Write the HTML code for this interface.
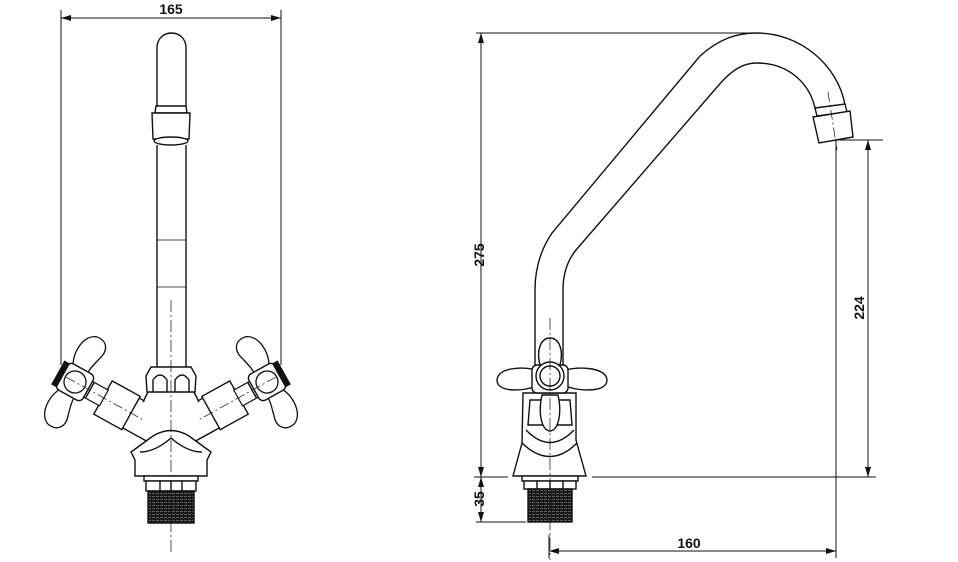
<!DOCTYPE html>
<html><head><meta charset="utf-8"><style>
html,body{margin:0;padding:0;background:#fff;}
svg{display:block;}
text{font-family:"Liberation Sans Narrow","Liberation Sans",sans-serif;font-weight:bold;font-size:14px;fill:#111;}
</style></head><body>
<svg width="958" height="562" viewBox="0 0 958 562" xmlns="http://www.w3.org/2000/svg">
<defs>
<marker id="a" viewBox="0 0 10 6" refX="10" refY="3" markerWidth="10" markerHeight="6" orient="auto-start-reverse" markerUnits="userSpaceOnUse"><path d="M0,0 L10,3 L0,6 Z" fill="#111"/></marker>
<pattern id="th" width="4" height="3" patternUnits="userSpaceOnUse"><rect width="4" height="3" fill="#1a1a1a"/><rect y="1" width="3" height="0.7" fill="#777"/></pattern>
<g id="arm">
 <path d="M-9,-12 C-17,-26 -15,-46 -3,-50 C9,-52 14,-43 10,-32 C8,-24 6,-17 7,-12 Z" fill="#fff" stroke="#111" stroke-width="1.3"/>
 <path d="M-9,12 C-17,26 -15,46 -3,50 C9,52 14,43 10,32 C8,24 6,17 7,12 Z" fill="#fff" stroke="#111" stroke-width="1.3"/>
 <rect x="62" y="-17" width="36" height="34" fill="#fff" stroke="#111" stroke-width="1.4"/>
 <rect x="32" y="-19" width="32" height="38" fill="#fff" stroke="#111" stroke-width="1.4"/>
 <rect x="13" y="-9" width="20" height="18" fill="#fff" stroke="#111" stroke-width="1.2"/>
 <line x1="17" y1="-9" x2="17" y2="9" stroke="#111"/>
 <rect x="-15" y="-15" width="30" height="30" rx="5" fill="#fff" stroke="#111" stroke-width="1.4"/>
 <circle cx="0" cy="0" r="11" fill="#fff" stroke="#111" stroke-width="1.3"/>
 <rect x="-19" y="-13" width="5" height="26" fill="#111"/>
 <line x1="-10" y1="0" x2="98" y2="0" stroke="#111" stroke-width="0.7" stroke-dasharray="10,3,2,3"/>
</g>
</defs>

<g stroke="#111" fill="none" stroke-width="1">
 <line x1="61" y1="10" x2="61" y2="365"/>
 <line x1="281" y1="10" x2="281" y2="365"/>
 <line x1="61" y1="18" x2="281" y2="18" marker-start="url(#a)" marker-end="url(#a)"/>
</g>
<text x="171" y="14" text-anchor="middle">165</text>

<g stroke="#111" fill="#fff" stroke-width="1.4">
 <path d="M157,368 L157,145 M186,145 L186,368"/>
 <line x1="157" y1="240" x2="186" y2="240" stroke-width="0.8"/>
 <line x1="157" y1="287" x2="186" y2="287" stroke-width="0.8"/>
 <path d="M157,106 L157,48 C157,28 186,28 186,48 L186,106"/>
 <path d="M156,106 L186,106 L187,113 L155,113 Z"/>
 <path d="M152,113 L190,113 L189,139 L153,139 Z"/>
 <ellipse cx="171" cy="141" rx="17" ry="4"/>
 <g transform="translate(75,382) rotate(29)"><use href="#arm"/></g>
 <g transform="translate(342,0) scale(-1,1) translate(75,382) rotate(29)"><use href="#arm"/></g>
 <path d="M150,392 L192,392 L198,402 L205,408 L190,440 L171,446 L152,440 L137,408 L144,402 Z" stroke="none"/>
 <path d="M148,392 L143,402 M194,392 L199,402" />
 <path d="M135,476 L135,460 L131,452 L153,436 Q171,425 189,436 L211,452 L207,460 L207,476 Z"/>
 <path d="M140,452 Q155,452 171,438 Q187,452 202,452" fill="none"/>
 <path d="M151,367 L191,367 L196,376 L195,392 L147,392 L146,376 Z"/>
 <path d="M153,392 L153,380 Q160,370 167,380 L167,392 M175,392 L175,380 Q182,370 189,380 L189,392" fill="none"/>
 <rect x="144" y="476" width="54" height="5"/>
 <rect x="146" y="481" width="50" height="10"/>
 <path d="M160,481 V491 M171,481 V491 M182,481 V491" fill="none"/>
 <rect x="148" y="491" width="46" height="32" fill="url(#th)"/>
</g>
<line x1="171" y1="300" x2="171" y2="552" stroke="#111" stroke-width="0.7" stroke-dasharray="12,3,2,3"/>

<g stroke="#111" fill="none" stroke-width="1">
 <line x1="476" y1="33" x2="757" y2="33"/>
 <line x1="481" y1="33" x2="481" y2="477" marker-start="url(#a)" marker-end="url(#a)"/>
 <line x1="481" y1="477" x2="481" y2="522" marker-start="url(#a)" marker-end="url(#a)"/>
 <line x1="474" y1="477" x2="508" y2="477"/>
 <line x1="592" y1="477" x2="876" y2="477"/>
 <line x1="476" y1="522" x2="526" y2="522"/>
 <line x1="836" y1="140" x2="883" y2="140"/>
 <line x1="868" y1="140" x2="868" y2="477" marker-start="url(#a)" marker-end="url(#a)"/>
 <line x1="836" y1="140" x2="836" y2="558"/>
 <line x1="549" y1="535" x2="549" y2="558"/>
 <line x1="549" y1="551" x2="836" y2="551" marker-start="url(#a)" marker-end="url(#a)"/>
</g>
<text transform="translate(484,255) rotate(-90)" text-anchor="middle">275</text>
<text transform="translate(484,499) rotate(-90)" text-anchor="middle">35</text>
<text transform="translate(864,308) rotate(-90)" text-anchor="middle">224</text>
<text x="689" y="548" text-anchor="middle">160</text>

<g stroke="#111" fill="#fff" stroke-width="1.4">
 <path d="M535,400 L535,290 Q535,258 552,233 L700,56 C720,38 738,33 757,33 C800,33 838,65 845,105" fill="none"/>
 <path d="M563,400 L563,290 Q563,266 576,250 L718,86 C733,68 745,63 757,63 C790,63 810,85 815,108" fill="none"/>
 <path d="M815,108 L845,104 L847,112 L817,116 Z"/>
 <path d="M813,117 L850,111 L853,137 L819,143 Z"/>
 <line x1="828" y1="92" x2="837" y2="150" stroke-width="0.7" stroke-dasharray="10,3,2,3"/>
 <path d="M523,393 L576,393 L576,440 L586,476 L513,476 L522,443 Z"/>
 <path d="M522,443 Q550,470 577,443" fill="none"/>
 <path d="M526,430 Q550,455 574,430" fill="none"/>
 <path d="M530,400 L570,400 L572,425 L528,425 Z" fill="none"/>
 <path d="M537,370 C520,366 498,368 497,380 C497,392 520,392 537,386 Z"/>
 <path d="M565,370 C582,366 606,368 607,380 C607,392 582,392 565,386 Z"/>
 <path d="M540,365 C536,350 541,338 550,338 C559,338 564,350 560,365 Z"/>
 <path d="M542,395 C538,412 541,430 550,431 C559,430 562,412 558,395 Z"/>
 <rect x="532" y="365" width="36" height="28" rx="5"/>
 <circle cx="550" cy="376" r="14"/>
 <circle cx="550" cy="376" r="10"/>
 <rect x="522" y="476" width="56" height="5"/>
 <rect x="524" y="481" width="52" height="8"/>
 <path d="M537,481 V489 M550,481 V489 M563,481 V489" fill="none"/>
 <rect x="528" y="489" width="44" height="33" fill="url(#th)"/>
</g>
<line x1="550" y1="318" x2="550" y2="560" stroke="#111" stroke-width="0.7" stroke-dasharray="12,3,2,3"/>
</svg>
</body></html>
